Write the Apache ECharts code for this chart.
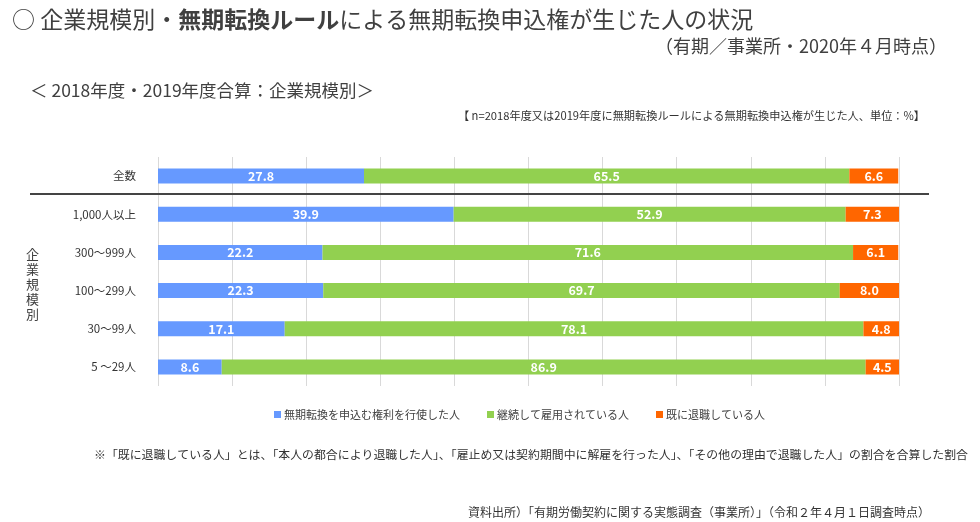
<!DOCTYPE html>
<html><head><meta charset="utf-8">
<script src="https://cdn.jsdelivr.net/npm/echarts@6/dist/echarts.min.js"></script>
<style>html,body{margin:0;padding:0;background:#fff}#c{width:980px;height:522px}</style>
</head><body><div id="c"></div>
<script>
const categories = ['全数', '1,000人以上', '300～999人', '100～299人', '30～99人', '5 ～29人'];
const seriesNames = ['無期転換を申込む権利を行使した人', '継続して雇用されている人', '既に退職している人'];
const exercised = [27.8, 39.9, 22.2, 22.3, 17.1, 8.6];
const continuing = [65.5, 52.9, 71.6, 69.7, 78.1, 86.9];
const retired = [6.6, 7.3, 6.1, 8.0, 4.8, 4.5];
const colors = ['#6699FF', '#92D050', '#FF6600'];
const FONT = '"Noto Sans CJK JP", "Noto Sans", sans-serif';

const chart = echarts.init(document.getElementById('c'));
const mk = (name, data, color) => ({
  name, type: 'bar', stack: 'total', data, barWidth: 15,
  itemStyle: { color },
  label: { show: true, position: 'inside', color: '#fff', fontWeight: 'bold', fontSize: 12.5, fontFamily: FONT,
    formatter: p => p.value.toFixed(1) }
});
chart.setOption({
  animation: false,
  textStyle: { fontFamily: FONT },
  title: [
    { left: 7, top: 3, text: '{n|○ 企業規模別・}{b|無期転換ルール}{n|による無期転換申込権が生じた人の状況}',
      textStyle: { fontWeight: 'normal', rich: { n: { fontSize: 23, fontWeight: 'normal', color: '#404040', fontFamily: FONT }, b: { fontSize: 23, fontWeight: 'bold', color: '#404040', fontFamily: FONT } } } },
    { right: 28, top: 32, text: '（有期／事業所・2020年４月時点）', textStyle: { fontSize: 18, fontWeight: 'normal', color: '#404040', fontFamily: FONT } },
    { left: 25, top: 77, text: '＜ 2018年度・2019年度合算：企業規模別＞', textStyle: { fontSize: 17.5, fontWeight: 'normal', color: '#404040', fontFamily: FONT } },
    { right: 50, top: 105, text: '【 n=2018年度又は2019年度に無期転換ルールによる無期転換申込権が生じた人、単位：%】', textStyle: { fontSize: 11.2, fontWeight: 'normal', color: '#333', fontFamily: FONT } },
    { left: 89, top: 444, text: '※「既に退職している人」とは、「本人の都合により退職した人」、「雇止め又は契約期間中に解雇を行った人」、「その他の理由で退職した人」の割合を合算した割合', textStyle: { fontSize: 11.9, fontWeight: 'normal', color: '#333', fontFamily: FONT } },
    { left: 463, top: 501, text: '資料出所）「有期労働契約に関する実態調査（事業所）」（令和２年４月１日調査時点）', textStyle: { fontSize: 12, fontWeight: 'normal', color: '#333', fontFamily: FONT } }
  ],
  legend: { left: 269, top: 404, icon: 'rect', itemWidth: 7, itemHeight: 7, itemGap: 27,
    textStyle: { fontSize: 11, color: '#404040', fontFamily: FONT, padding: [0, 0, 0, -2] }, data: seriesNames },
  grid: { left: 158, right: 81, top: 157, height: 229, containLabel: false },
  xAxis: { type: 'value', min: 0, max: 100, interval: 10, axisLabel: { show: false }, axisLine: { show: false }, axisTick: { show: false },
    splitLine: { show: true, lineStyle: { color: '#d9d9d9', width: 1 } } },
  yAxis: { type: 'category', inverse: true, data: categories, axisLine: { show: false }, axisTick: { show: false },
    axisLabel: { margin: 22, fontSize: 11.5, color: '#333', fontFamily: FONT } },
  graphic: [
    { type: 'line', z: 100, shape: { x1: 30, y1: 194, x2: 929, y2: 194 }, style: { stroke: '#444', lineWidth: 2 } },
    { type: 'text', left: 26, top: 247, style: { text: '企\n業\n規\n模\n別', fontSize: 13, lineHeight: 15, fill: '#404040', fontFamily: FONT } }
  ],
  series: [mk(seriesNames[0], exercised, colors[0]), mk(seriesNames[1], continuing, colors[1]), mk(seriesNames[2], retired, colors[2])]
});
</script></body></html>
